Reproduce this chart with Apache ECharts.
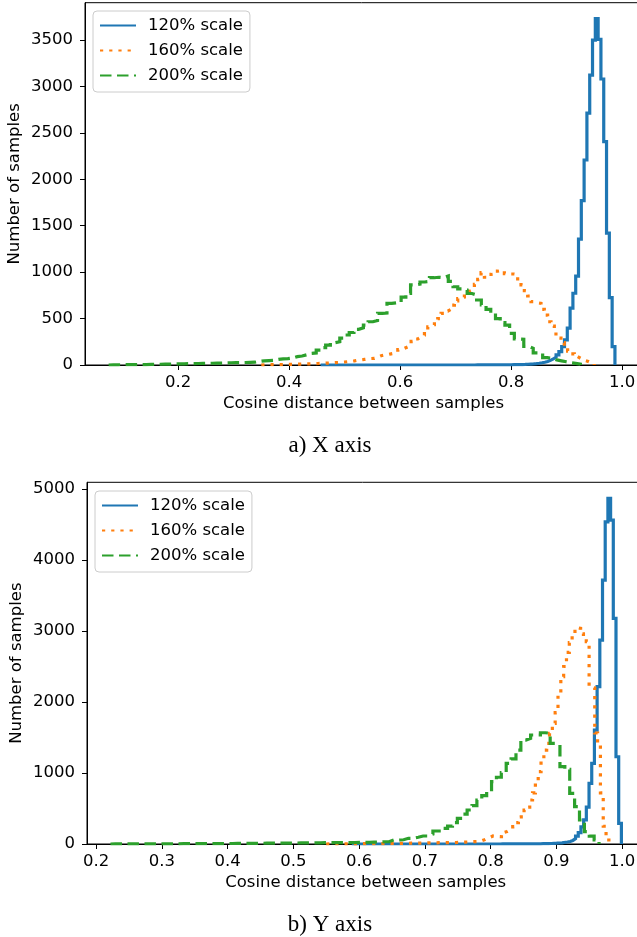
<!DOCTYPE html>
<html><head><meta charset="utf-8">
<script src="https://cdn.jsdelivr.net/npm/echarts@6/dist/echarts.min.js"></script>
<style>html,body{margin:0;padding:0;background:#fff}#c{width:637px;height:937px}</style>
</head><body><div id="c"></div>
<script>
const seriesNames = ['120% scale', '160% scale', '200% scale'];
const seriesColors = ['#1f77b4', '#ff7f0e', '#2ca02c'];
const axisTitleX = 'Cosine distance between samples';
const axisTitleY = 'Number of samples';
const panelCaptions = ['a) X axis', 'b) Y axis'];

// Panel a) X axis : histogram bin edges (first edge, bin width) and counts
const xPanelBinStart = [0.457, 0.35, 0.075];
const xPanelBinWidth = [0.00505, 0.006, 0.0085];
const xPanel120 = [
  0,0,0,0,0,0,0,0,0,0, 0,0,0,0,0,0,0,0,0,0, 0,0,0,0,0,0,0,0,0,0,
  0,0,0,0,0,0,0,0,0,0, 0,0,0,0,0,0,0,0,0,0, 0,0,0,0,0,
  1,1,1,1,1,1,1,1,1,1, 2,2,2,3,3,4,5,6,8,10,
  12,15,19,24,30,38,50,65,85,110,
  143,197,270,397,612,773,958,1355,1770,2208,
  2713,3123,3500,3730,3507,3080,2405,1420,725,197
];
const xPanel160 = [
  2,2,3,3,4,4,5,6,7,8,9,10,11,12,13,14,16,17,19,21,23,25,27,29,32,
  36,40,45,52,55,60,65,70,72,85,
  100,108,112,120,126,140,165,180,195,215,
  255,280,300,320,366,410,431,470,500,557,
  580,600,645,690,715,730,785,800,815,869,
  923,994,945,975,980,1010,1016,1016,985,980,
  980,975,897,862,800,743,682,670,664,600,
  538,466,420,334,290,240,200,150,120,90,
  70,50,40,25,15
];
const xPanel200 = [
  2,2,3,3,4,4,5,5,6,7,8,9,10,11,12,13,14,15,16,17,18,19,20,21,22,24,
  25,26,27,29,30,38,45,47,50,60,
  65,68,75,90,97,110,126,130,160,187,
  215,240,250,290,323,350,384,400,430,466,
  480,557,560,664,670,675,730,772,862,870,
  894,900,940,945,940,958,900,843,820,808,
  770,754,700,646,600,557,500,456,430,341,
  280,277,200,180,130,126,80,72,55,45,
  35,25,18,10
];
const xPanelXTicks = [0.2, 0.4, 0.6, 0.8, 1.0];
const xPanelYTicks = [0, 500, 1000, 1500, 2000, 2500, 3000, 3500];

// Panel b) Y axis
const yPanelBinStart = [0.589, 0.55, 0.222];
const yPanelBinWidth = [0.0041, 0.0043, 0.00743];
const yPanel120 = [
  0,0,0,0,0,0,0,0,0,0, 0,0,0,0,0,0,0,0,0,0, 0,0,0,0,0,0,0,0,0,0,
  0,0,0,0,0,0,0,0,0,0, 0,0,0,0,0,0,0,0,0,0, 0,0,0,0,0,
  1,1,1,1,1,1,1,1,1,1,
  2,2,2,3,3,4,5,6,7,9,11,14,17,22,
  28,36,50,75,110,160,240,340,520,854,
  1136,1605,2215,2872,3717,4538,4867,4560,3178,1229,291
];
const yPanel160 = [
  1,1,1,1,2,2,2,2,3,3,3,3,4,4,4,5,5,5,6,6,6,7,7,8,8,9,9,10,10,11,12,12,13,14,14,15,16,16,17,18,
  18,19,19,20,20,21,22,24,26,28,
  30,32,33,35,45,60,80,95,113,110,
  105,103,164,175,197,215,244,300,380,440,
  479,520,620,720,880,1018,1180,1323,1418,1558,
  1700,1850,2122,2356,2500,2700,2835,2950,3046,3037,
  2960,2900,2849,2215,2200,1563,1420,720,250,56
];
const yPanel200 = [
  1,1,1,1,1,2,2,2,2,2,3,3,3,3,4,4,4,5,5,5,6,6,6,7,7,8,8,9,9,10,10,11,11,12,12,13,13,14,15,15,16,17,17,18,18,
  18,19,20,20,21,22,24,25,27,29,
  32,32,56,56,60,80,80,95,113,113,
  140,183,183,220,253,300,361,420,479,540,
  620,680,737,878,940,1004,1136,1200,1323,1464,
  1488,1535,1535,1567,1560,1418,1394,1089,1050,714,
  525,338,173,110,56
];
const yPanelXTicks = [0.2, 0.3, 0.4, 0.5, 0.6, 0.7, 0.8, 0.9, 1.0];
const yPanelYTicks = [0, 1000, 2000, 3000, 4000, 5000];

// step outline of a histogram: (e0,0) -> (e0,c0) -> ... -> (eN,0)
function stepData(start, width, counts) {
  const pts = [[start, 0]];
  counts.forEach((c, i) => pts.push([start + i * width, c]));
  pts.push([start + counts.length * width, 0]);
  return pts;
}

const FONT = 'DejaVu Sans';
const FS = 16.5;
const lineTypes = ['solid', [3.2, 6], [11.5, 5.5]];

function makeAxes(gi, xmin, xmax, ymax, xt, yt) {
  return {
    x: {
      type: 'value', gridIndex: gi, min: xmin, max: xmax,
      name: axisTitleX, nameLocation: 'middle', nameGap: 30, nameMoveOverlap: false,
      nameTextStyle: { fontFamily: FONT, fontSize: FS, color: '#000' },
      axisLine: { show: true, onZero: false, lineStyle: { color: '#000', width: 1 } },
      axisTick: { show: true, inside: false, length: 5, customValues: xt, lineStyle: { color: '#000', width: 1 } },
      axisLabel: { customValues: xt, margin: 9, fontFamily: FONT, fontSize: FS, color: '#000',
        formatter: v => v.toFixed(1) },
      splitLine: { show: false }
    },
    y: {
      type: 'value', gridIndex: gi, min: 0, max: ymax,
      name: axisTitleY, nameLocation: 'middle', nameGap: 62, nameMoveOverlap: false,
      nameTextStyle: { fontFamily: FONT, fontSize: FS, color: '#000' },
      axisLine: { show: true, lineStyle: { color: '#000', width: 1 } },
      axisTick: { show: true, inside: false, length: 5, customValues: yt, lineStyle: { color: '#000', width: 1 } },
      axisLabel: { customValues: yt, margin: 12, fontFamily: FONT, fontSize: FS, color: '#000',
        formatter: v => String(v) },
      splitLine: { show: false }
    }
  };
}

const a0 = makeAxes(0, 0.0324, 1.0360, 3902, xPanelXTicks, xPanelYTicks);
const a1 = makeAxes(1, 0.1863, 1.0340, 5094, yPanelXTicks, yPanelYTicks);

const panels = [
  { starts: xPanelBinStart, widths: xPanelBinWidth, data: [xPanel120, xPanel160, xPanel200] },
  { starts: yPanelBinStart, widths: yPanelBinWidth, data: [yPanel120, yPanel160, yPanel200] }
];
const series = [];
panels.forEach((p, gi) => {
  p.data.forEach((counts, si) => {
    series.push({
      type: 'line', name: seriesNames[si], xAxisIndex: gi, yAxisIndex: gi,
      step: 'end', symbol: 'none', silent: true,
      data: stepData(p.starts[si], p.widths[si], counts),
      lineStyle: { color: seriesColors[si], width: 3.2, type: lineTypes[si], cap: 'butt', join: 'miter' },
      itemStyle: { color: seriesColors[si] }
    });
  });
});

function legendAt(left, top) {
  return {
    left: left, top: top, orient: 'vertical', data: seriesNames,
    itemWidth: 36, itemHeight: 14, itemGap: 8,
    padding: [6, 7, 8, 6],
    itemStyle: { opacity: 0 },
    backgroundColor: 'rgba(255,255,255,0.8)', borderColor: '#cccccc', borderWidth: 1, borderRadius: 4,
    textStyle: { fontFamily: FONT, fontSize: FS, color: '#000', lineHeight: 16, padding: [0, 0, 0, 7] },
    selectedMode: false
  };
}

const chart = echarts.init(document.getElementById('c'), null, { renderer: 'canvas' });
chart.setOption({
  animation: false,
  backgroundColor: '#fff',
  grid: [
    { left: 85, top: 2.7, width: 557, height: 362.3, outerBoundsMode: 'none', containLabel: false, show: true, borderColor: '#000', borderWidth: 1, backgroundColor: 'transparent' },
    { left: 87, top: 482.3, width: 557.4, height: 361.7, outerBoundsMode: 'none', containLabel: false, show: true, borderColor: '#000', borderWidth: 1, backgroundColor: 'transparent' }
  ],
  xAxis: [a0.x, a1.x],
  yAxis: [a0.y, a1.y],
  legend: [legendAt(93, 11), legendAt(95, 491)],
  title: [
    { text: panelCaptions[0], left: 325, textAlign: 'center', top: 429, textStyle: { fontFamily: 'Liberation Serif', fontSize: 23, fontWeight: 'normal', color: '#000' } },
    { text: panelCaptions[1], left: 325, textAlign: 'center', top: 908, textStyle: { fontFamily: 'Liberation Serif', fontSize: 23, fontWeight: 'normal', color: '#000' } }
  ],
  series: series
});
</script></body></html>
